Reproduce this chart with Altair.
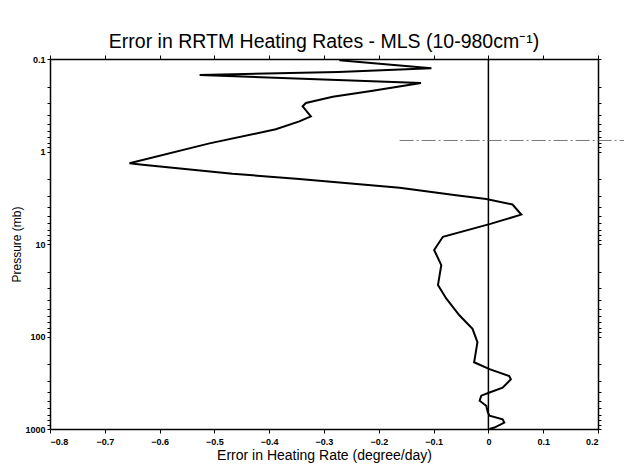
import altair as alt
import pandas as pd

# Error in heating rate (degree/day) vs pressure (mb), traced top to bottom
err = [-0.272, -0.104, -0.274, -0.527, -0.123, -0.211, -0.284, -0.333, -0.339,
       -0.324, -0.345, -0.388, -0.509, -0.655, -0.631, -0.467, -0.345, -0.162,
       -0.059, -0.004, 0.044, 0.060, 0.002, -0.083, -0.099, -0.086, -0.092,
       -0.077, -0.053, -0.029, -0.020, -0.026, 0.002, 0.038, 0.041, 0.026,
       0.002, -0.013, -0.016, -0.004, -0.001, 0.002, 0.026, 0.029, 0.011, 0.002]
pres = [0.103, 0.126, 0.138, 0.149, 0.182, 0.220, 0.256, 0.299, 0.325,
        0.418, 0.472, 0.575, 0.817, 1.337, 1.387, 1.74, 1.98, 2.47,
        2.97, 3.27, 3.74, 4.81, 6.10, 8.35, 11.6, 16.9, 27.7,
        38.8, 59.0, 82.8, 115, 190, 225, 267, 291, 357,
        403, 436, 494, 560, 662, 719, 787, 854, 964, 1000]

x_ticks = [-0.8, -0.7, -0.6, -0.5, -0.4, -0.3, -0.2, -0.1, 0, 0.1, 0.2]
y_ticks = [m * d for d in [0.1, 1, 10, 100] for m in range(1, 10)] + [1000]
y_major = [0.1, 1, 10, 100, 1000]

zero_line = [0.0]
artifact_p = [0.76]
artifact_x = [-0.162, 0.26]

df = pd.DataFrame({"err": err, "p": pres, "order": list(range(len(err)))})
zdf = pd.DataFrame({"x": zero_line, "p1": [0.1], "p2": [1000]})
adf = pd.DataFrame({"x1": [artifact_x[0]], "x2": [artifact_x[1]], "p": artifact_p})

xscale = alt.Scale(domain=[-0.8, 0.2], nice=False, zero=False)
yscale = alt.Scale(type="log", domain=[0.1, 1000], reverse=True, nice=False)

font = "Liberation Sans"

line = alt.Chart(df).mark_line(color="black", strokeWidth=2).encode(
    x=alt.X("err:Q", scale=xscale,
            axis=alt.Axis(orient="bottom", values=x_ticks, format="~g",
                          title="Error in Heating Rate (degree/day)",
                          titleFont=font, titleFontSize=14, titleFontWeight="normal",
                          titleColor="black", titlePadding=2,
                          labelFont=font, labelFontSize=9, labelFontWeight="bold",
                          labelColor="black", labelPadding=4,
                          tickColor="black", tickSize=4, domainColor="black",
                          domainWidth=1.5, grid=False)),
    y=alt.Y("p:Q", scale=yscale,
            axis=alt.Axis(orient="left", values=y_ticks,
                          labelExpr="indexof([0.1,1,10,100,1000], datum.value) >= 0 ? datum.label : ''",
                          format="~g",
                          title="Pressure (mb)",
                          titleFont=font, titleFontSize=12, titleFontWeight="normal",
                          titleColor="black", titlePadding=1,
                          labelFont=font, labelFontSize=9, labelFontWeight="bold",
                          labelColor="black", labelPadding=2,
                          tickColor="black", tickSize=3, domainColor="black",
                          domainWidth=1.5, grid=False)),
    order="order:Q",
)

zero = alt.Chart(zdf).mark_rule(color="black", strokeWidth=1.5).encode(
    x=alt.X("x:Q", scale=xscale,
            axis=alt.Axis(orient="top", values=x_ticks, labels=False, title=None,
                          tickColor="black", tickSize=4, domainColor="black",
                          domainWidth=1.5, grid=False)),
    y=alt.Y("p1:Q", scale=yscale,
            axis=alt.Axis(orient="right", values=y_ticks, labels=False, title=None,
                          tickColor="black", tickSize=3, domainColor="black",
                          domainWidth=1.5, grid=False)),
    y2="p2:Q",
)

artifact = alt.Chart(adf).mark_rule(color="#555555", strokeWidth=0.8,
                                    strokeDash=[14, 3, 2, 3], clip=False).encode(
    x=alt.X("x1:Q", scale=xscale, axis=None),
    x2="x2:Q",
    y=alt.Y("p:Q", scale=yscale, axis=None),
)

chart = alt.layer(line, zero, artifact).resolve_axis(
    x="independent", y="independent"
).properties(
    width=548, height=370,
    autosize=alt.AutoSizeParams(type="none"),
    padding={"left": 42, "top": 51, "right": 26, "bottom": 38},
    title=alt.TitleParams("Error in RRTM Heating Rates - MLS (10-980cm⁻¹)",
                          font=font, fontSize=19.5, fontWeight="normal",
                          color="black", anchor="middle", offset=2),
).configure_view(stroke=None)

chart.save("out.html", embed_options={"renderer": "svg", "actions": False})
